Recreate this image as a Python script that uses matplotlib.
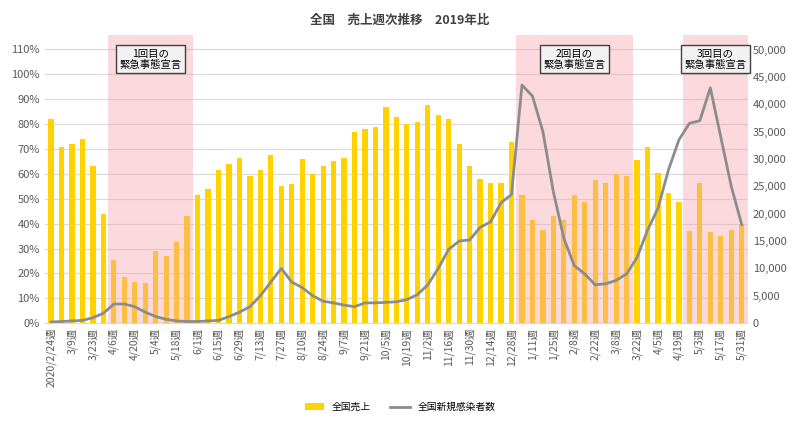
import matplotlib
matplotlib.use("Agg")
import matplotlib.pyplot as plt
import numpy as np

plt.rcParams["font.family"] = ["Noto Sans CJK JP", "DejaVu Sans"]

tick_labels = ["2020/2/24","3/9","3/23","4/6","4/20","5/4","5/18","6/1","6/15","6/29","7/13","7/27",
               "8/10","8/24","9/7","9/21","10/5","10/19","11/2","11/16","11/30","12/14","12/28",
               "1/11","1/25","2/8","2/22","3/8","3/22","4/5","4/19","5/3","5/17","5/31"]
sales = [82,71,72,74,63,44,25.5,18.5,16.5,16,29,27,32.5,43,51.5,54,61.5,64,66.5,59,61.5,67.5,55,56,
         66,60,63,65,66.5,77,78,79,87,83,80,81,87.5,83.5,82,72,63,58,56.5,56.5,73,51.5,41.5,37.5,43,
         41.5,51.5,48.5,57.5,56.5,60,59,65.5,71,60.5,52.5,48.5,37,56.5,36.5,35,37.5,40]
cases = [200,300,400,500,1000,1800,3500,3500,3000,2000,1200,700,400,300,300,400,500,1200,2000,
         3000,5000,7500,10000,7500,6500,5000,4000,3700,3300,3000,3700,3700,3800,3900,4300,5200,7000,
         10000,13500,15000,15200,17500,18500,22000,23500,43500,41500,35000,24000,15500,10500,9000,
         7000,7200,7800,9000,12000,17000,21000,28000,33500,36500,37000,43000,34000,25000,18000]
emergencies = [(7,14,"1回目の\n緊急事態宣言"),(46,56,"2回目の\n緊急事態宣言"),(62,67,"3回目の\n緊急事態宣言")]

top = 1.16
fig = plt.figure(figsize=(8,4.32), dpi=100)
ax = fig.add_axes([0.056,0.252,0.879,0.668])
x = np.arange(1,len(sales)+1)
ax.bar(x, np.array(sales)/100, width=0.5, color="#FFD200", zorder=2, label="全国売上")
for s,e,t in emergencies:
    ax.axvspan(s-0.6, e+0.6, color="#F9A0A8", alpha=0.4, lw=0, zorder=3)
    ax.text((s+e)/2, 1.06, t, ha="center", va="center", fontsize=7.5, zorder=6,
            bbox=dict(boxstyle="square,pad=0.3", fc="#F2F2F2", ec="#404040", lw=1))
ax.set_xlim(0.4, len(sales)+0.6)
ax.set_ylim(0,top)
ax.set_yticks(np.arange(0,1.11,0.1))
ax.set_yticklabels([f"{int(round(v*100))}%" for v in np.arange(0,1.11,0.1)], fontsize=8, color="#595959")
ax.grid(axis="y", color="#D9D9D9", lw=0.8, zorder=0)
ax.set_xticks(x[::2])
ax.set_xticklabels([l+"週" for l in tick_labels], rotation=90, fontsize=7.5, color="#595959")
for sp in ["top","right","left"]:
    ax.spines[sp].set_visible(False)
ax.spines["bottom"].set_color("#D9D9D9")
ax.tick_params(length=0)
ax2 = ax.twinx()
ax2.plot(x, cases, color="#8C8C8C", lw=2, zorder=5, label="全国新規感染者数")
ax2.set_ylim(0,50000*top/1.1)
ax2.set_yticks(np.arange(0,50001,5000))
ax2.set_yticklabels([f"{v:,}" for v in range(0,50001,5000)], fontsize=8, color="#595959")
for sp in ["top","right","left","bottom"]:
    ax2.spines[sp].set_visible(False)
ax2.tick_params(length=0)
fig.text(0.5, 0.945, "全国　売上週次推移　2019年比", ha="center", fontsize=9, fontweight="bold", color="#404040")
h1,l1 = ax.get_legend_handles_labels()
h2,l2 = ax2.get_legend_handles_labels()
fig.legend(h1+h2, l1+l2, loc="center", bbox_to_anchor=(0.5,0.058), ncol=2, frameon=False, fontsize=7)
fig.savefig("out.png", dpi=100)
